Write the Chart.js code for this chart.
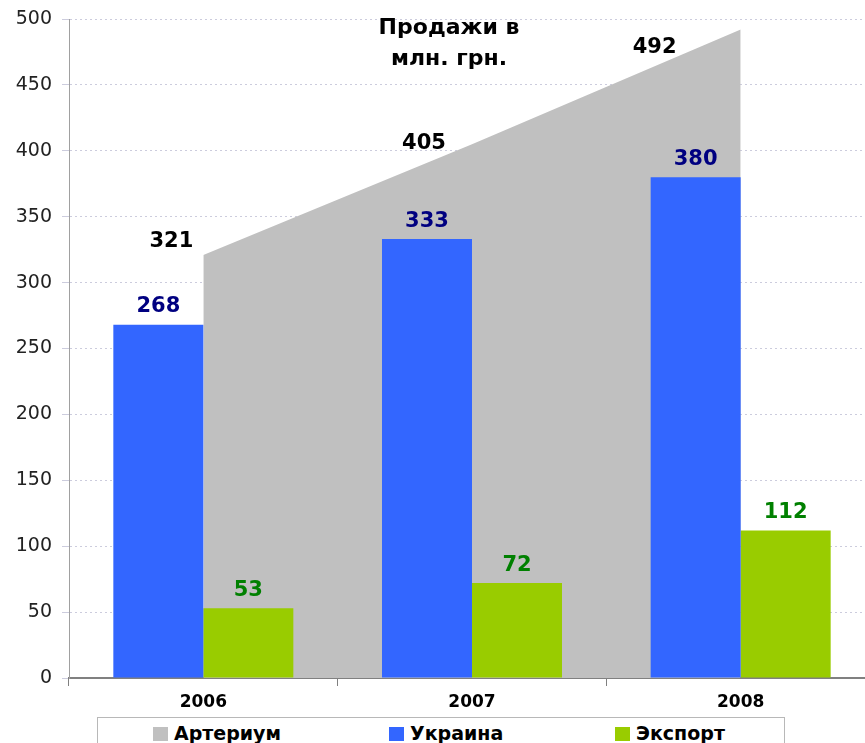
<!DOCTYPE html>
<html>
<head>
<meta charset="utf-8">
<script src="https://cdn.jsdelivr.net/npm/chart.js@4.4.0/dist/chart.umd.min.js"></script>
<style>
  html, body { margin: 0; padding: 0; background: #fff; overflow: hidden; }
  #wrap { position: relative; width: 880px; height: 743px; }
  #legend {
    position: absolute; left: 97px; top: 717px; width: 686px; height: 40px;
    border: 1px solid #b8b8b8; background: #fff;
    font: bold 19px "DejaVu Sans", sans-serif; color: #000;
  }
  #legend .item { position: absolute; top: 4px; white-space: nowrap; line-height: 22px; }
  #legend .sw { display: inline-block; width: 15px; height: 14px; margin-right: 6px; vertical-align: -1px; }
</style>
</head>
<body>
<div id="wrap">
  <canvas id="sales" width="880" height="714"></canvas>
  <div id="legend"></div>
</div>
<script>
// данные
let years = ['2006', '2007', '2008'];
let arterium = [321, 405, 492];
let ukraine = [268, 333, 380];
let exportSales = [53, 72, 112];
let yTicks = [0, 50, 100, 150, 200, 250, 300, 350, 400, 450, 500];

// смещения подписей серой области (относительно точки)
let areaLabelShift = [[-32, -13], [-48, -1], [-86, 18]];
// где начинается каждый пункт легенды
let legendLeft = [55, 291, 517];

let boldFont = 'bold 21px "DejaVu Sans"';

const valueLabels = {
    id: 'valueLabels',
    afterDatasetsDraw(chart) {
        const ctx = chart.ctx;
        ctx.save();
        ctx.font = boldFont;
        ctx.textAlign = 'center';
        ctx.textBaseline = 'middle';
        chart.data.datasets.forEach(function (ds, i) {
            const meta = chart.getDatasetMeta(i);
            meta.data.forEach(function (el, j) {
                ctx.fillStyle = ds.labelColor;
                if (ds.type === 'line') {
                    ctx.fillText(ds.data[j], el.x + areaLabelShift[j][0], el.y + areaLabelShift[j][1]);
                } else {
                    ctx.fillText(ds.data[j], el.x, el.y - 18);
                }
            });
        });
        // заголовок внутри графика
        ctx.font = 'bold 22px "DejaVu Sans"';
        ctx.fillStyle = '#000';
        ctx.fillText('Продажи в', chart.chartArea.left + 380, 28);
        ctx.fillText('млн. грн.', chart.chartArea.left + 380, 59);
        ctx.restore();
    }
};

let myChart = new Chart(document.getElementById('sales'), {
    data: {
        labels: years,
        datasets: [
            {
                type: 'line',
                label: 'Артериум',
                data: arterium,
                fill: 'origin',
                backgroundColor: '#C0C0C0',
                borderColor: '#C0C0C0',
                borderWidth: 0,
                pointRadius: 0,
                tension: 0,
                order: 3,
                labelColor: '#000'
            },
            {
                type: 'bar',
                label: 'Украина',
                data: ukraine,
                backgroundColor: '#3366FF',
                categoryPercentage: 0.67,
                barPercentage: 1,
                order: 1,
                labelColor: '#000080'
            },
            {
                type: 'bar',
                label: 'Экспорт',
                data: exportSales,
                backgroundColor: '#99CC00',
                categoryPercentage: 0.67,
                barPercentage: 1,
                order: 2,
                labelColor: '#008000'
            }
        ]
    },
    plugins: [valueLabels],
    options: {
        responsive: false,
        animation: false,
        layout: {
            padding: { top: 19, right: 5, bottom: 0, left: 0 }
        },
        plugins: {
            tooltip: { enabled: false },
            legend: { display: false }
        },
        scales: {
            x: {
                offset: true,
                afterFit: function (scale) { scale.height = 36; },
                grid: {
                    offset: true,
                    drawOnChartArea: false,
                    drawTicks: true,
                    tickLength: 8,
                    color: '#808080'
                },
                border: { color: '#808080', width: 2 },
                ticks: {
                    color: '#000',
                    padding: 6,
                    font: { family: 'DejaVu Sans', size: 17, weight: 'bold' }
                }
            },
            y: {
                min: 0,
                max: 500,
                afterFit: function (scale) {
                    scale.width = 69;
                    scale.paddingTop = 0;
                },
                afterBuildTicks: function (scale) {
                    scale.ticks = yTicks.map(function (v) { return { value: v }; });
                },
                grid: {
                    color: '#ccccdd',
                    tickLength: 7,
                    tickColor: '#ccccdd'
                },
                border: { color: '#a0a0a0', dash: [2, 3] },
                ticks: {
                    color: '#222',
                    padding: 10,
                    font: { family: 'DejaVu Sans', size: 19, lineHeight: 1 }
                }
            }
        }
    }
});

// легенда в рамке
let legendBox = document.getElementById('legend');
myChart.data.datasets.forEach(function (ds, i) {
    let item = document.createElement('span');
    item.className = 'item';
    item.style.left = legendLeft[i] + 'px';
    let sw = document.createElement('span');
    sw.className = 'sw';
    sw.style.background = ds.backgroundColor;
    item.appendChild(sw);
    item.appendChild(document.createTextNode(ds.label));
    legendBox.appendChild(item);
});
</script>
</body>
</html>
